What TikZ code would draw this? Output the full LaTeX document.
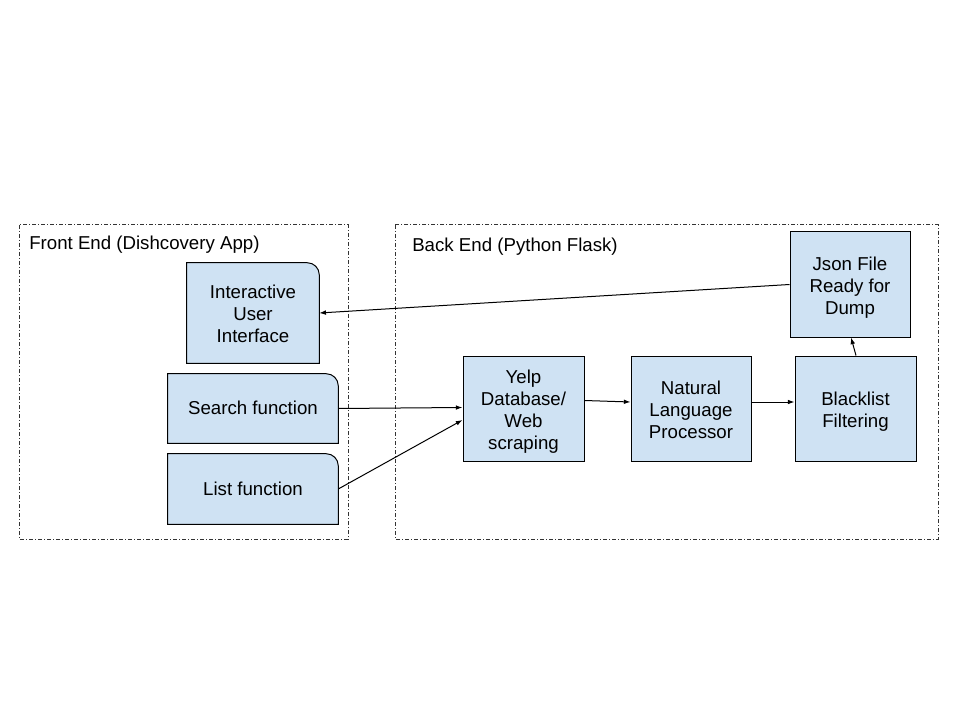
\documentclass[tikz,border=0pt]{standalone}
\usepackage{fontspec}
\setmainfont{Liberation Sans}
\usetikzlibrary{arrows.meta,backgrounds,calc}
\definecolor{boxblue}{HTML}{CFE2F3}
\newcommand\gstrut{\rule[-2.97pt]{0pt}{15.64pt}}
\newcommand\mstrut{\rule[-2.97pt]{0pt}{17.47pt}}
\tikzset{
  px/.style={x=0.75pt,y=-0.75pt},
  txt/.style={align=center,font=\fontsize{14pt}{16.5pt}\selectfont,inner sep=0pt,
    execute at begin node=\gstrut},
  box/.style={txt,draw=black,line width=0.75pt,fill=boxblue},
  rbox/.style={txt},
  frame/.style={draw=black!80,line width=0.75pt,dash pattern=on 3pt off 1.5pt on 0.75pt off 1.5pt},
  lbl/.style={anchor=west,font=\fontsize{14pt}{16.5pt}\selectfont,inner sep=0pt},
  conn/.style={draw=black,line width=0.75pt,-{Latex[length=5pt,width=3.5pt]}}
}
\begin{document}
\begin{tikzpicture}[px]
\useasboundingbox (0,0) rectangle (960,720);
% frames
\path[frame] (19,225) rectangle (348,539);
\path[frame] (395,225) rectangle (938,539);
\node[lbl] (fe) at (29,244.5) {Front End (Dishcovery App)};
\node[lbl] (be) at (412,246.5) {Back End (Python Flask)};
% nodes with rounded top-right corner
\node[rbox,minimum width=99pt,minimum height=75pt] (ui) at (253,313) {\mstrut Interactive\\User\\Interface};
\node[rbox,minimum width=127.5pt,minimum height=51.75pt] (search) at (253,408.5) {Search function};
\node[rbox,minimum width=127.5pt,minimum height=52.5pt] (list) at (253,489) {List function};
\begin{scope}[on background layer]
\fill[white] (0,0) rectangle (960,720);
\foreach \n in {ui,search,list}{
  \draw[line width=0.75pt,fill=boxblue] (\n.south west) -- (\n.north west) -- ($(\n.north east)+(-9pt,0)$)
    arc[start angle=90,end angle=0,radius=9pt] -- (\n.south east) -- cycle;
}
\end{scope}
% back end boxes
\node[box,minimum width=90.75pt,minimum height=78.75pt] (yelp) at (523.5,408.5) {\mstrut Yelp\\Database/\\Web\\scraping};
\node[box,minimum width=90pt,minimum height=78.75pt] (nlp) at (691,408.5) {\mstrut Natural\\Language\\Processor};
\node[box,minimum width=90.75pt,minimum height=78.75pt] (black) at (855.5,408.5) {\mstrut Blacklist\\Filtering};
\node[box,minimum width=90pt,minimum height=78.75pt] (json) at (850,284.5) {\mstrut Json File\\Ready for\\Dump};
% connectors
\draw[conn] (json.west) -- (ui.east);
\draw[conn] (search.east) -- ($(yelp.west)+(0,-1)$);
\draw[conn] (list.east) -- ($(yelp.west)+(0,11.5)$);
\draw[conn] ($(yelp.east)+(0,-8)$) -- ($(nlp.west)+(0,-6.5)$);
\draw[conn] ($(nlp.east)+(0,-6.5)$) -- ($(black.west)+(0,-6.5)$);
\draw[conn] ($(black.north)+(0.5,0)$) -- ($(json.south)+(1,0)$);
\end{tikzpicture}
\end{document}
